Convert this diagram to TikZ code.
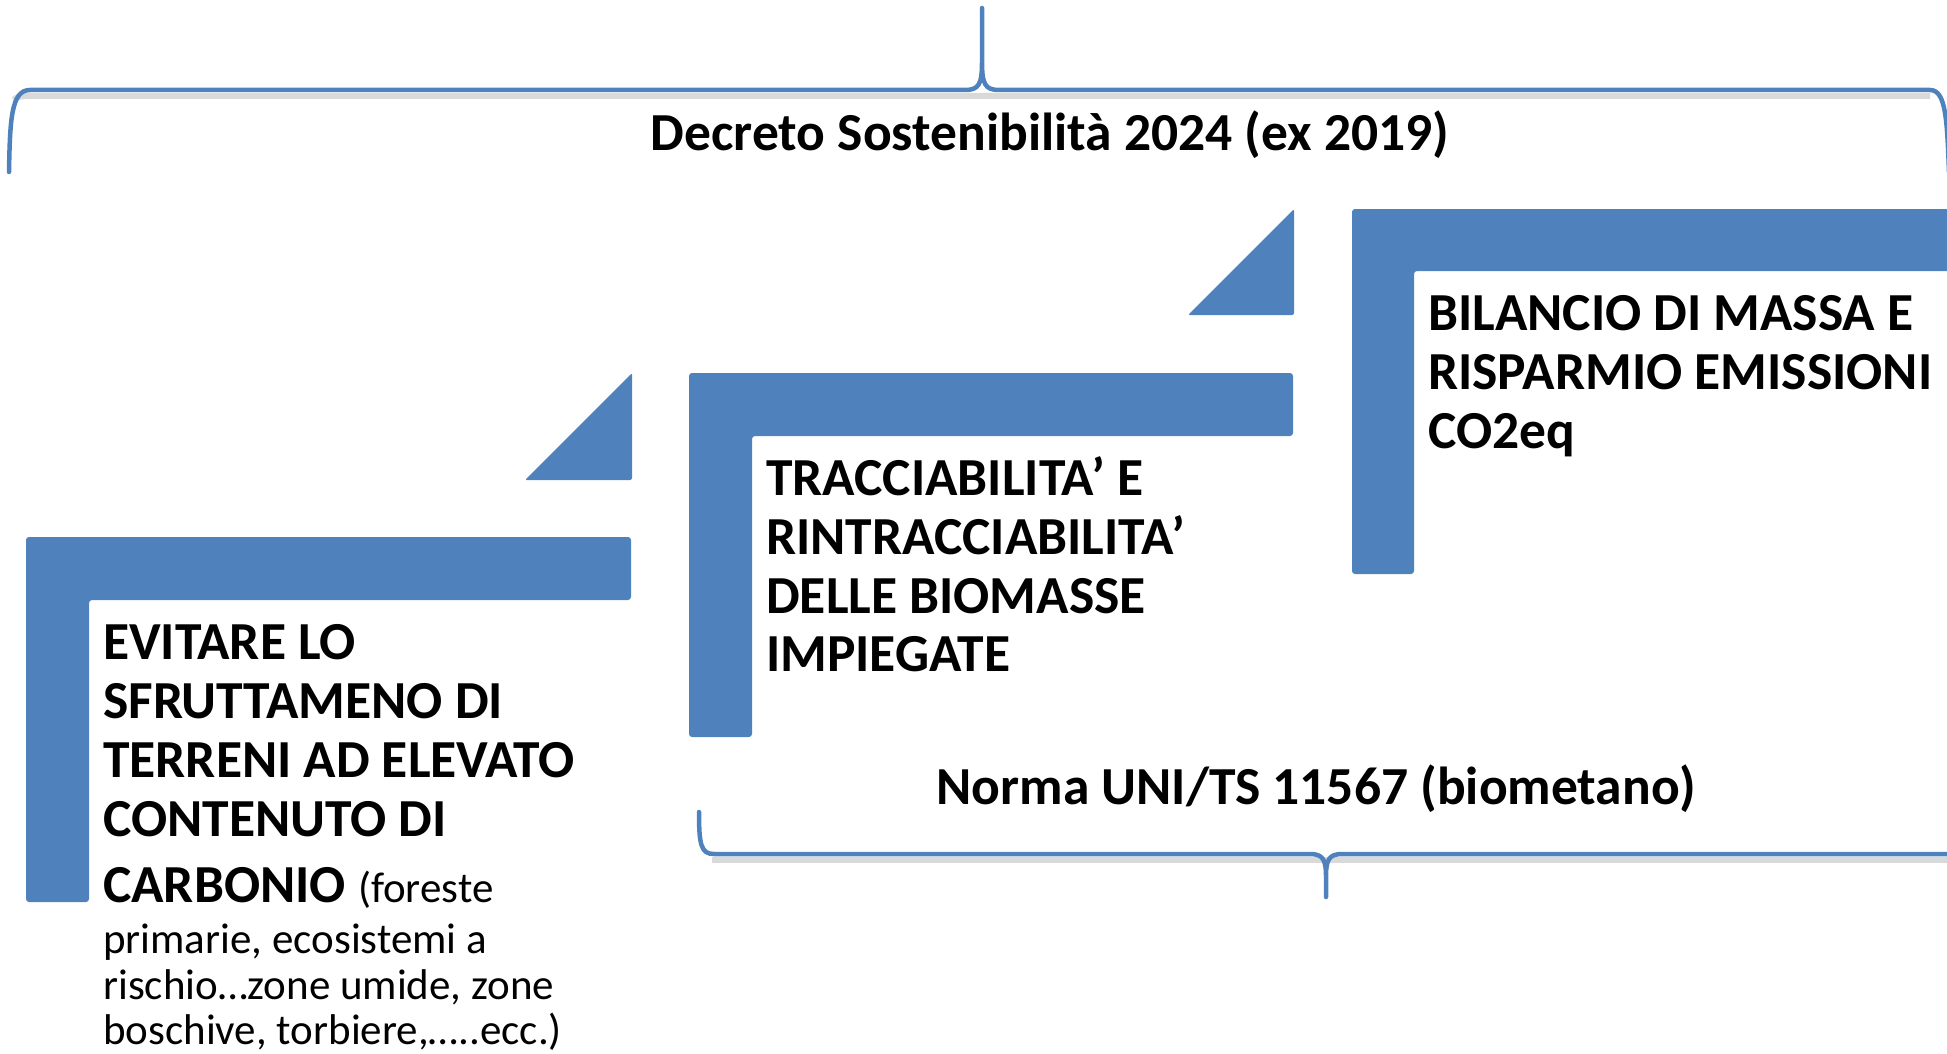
\documentclass[tikz,border=0pt]{standalone}
\usepackage{fontspec}
\setmainfont{Carlito}
\definecolor{ablue}{HTML}{4F81BD}
\begin{document}
\begin{tikzpicture}[x=1pt,y=-1pt,
  lshape/.style={fill=ablue, rounded corners=3pt},
  tri/.style={fill=ablue, rounded corners=2pt},
  brace/.style={draw=ablue, line width=4.5pt, line cap=round, line join=round},
  braceshadow/.style={draw=black, opacity=0.15, line width=6pt},
  bigtxt/.style={font=\fontsize{53.5}{59}\selectfont\bfseries, anchor=base west, inner sep=0pt},
  smalltxt/.style={font=\fontsize{43}{46}\selectfont, anchor=base west, inner sep=0pt},
  headtxt/.style={font=\fontsize{53.5}{60}\selectfont\bfseries, anchor=base, inner sep=0pt}]
\useasboundingbox (0,0) rectangle (1947,1054);
\clip (0,0) rectangle (1947,1054);
% top brace
\coordinate (tbL) at (9,172);
\coordinate (tbTip) at (982,8);
\coordinate (tbR) at (1949,172);
\draw[braceshadow] (14,100) .. controls (15,97) and (21,96) .. (30,96) -- (1930,96);
\draw[brace] (tbL) .. controls (10,120) and (11,90) .. (30,90) -- (965,90)
  .. controls (979,90) and (982,84) .. (982,62) -- (tbTip)
  (982,62) .. controls (982,84) and (985,90) .. (999,90) -- (1930,90)
  .. controls (1946,90) and (1947,120) .. (tbR);
\node[headtxt] (title) at (1050,150) {Decreto Sostenibilità 2024 (ex 2019)};
% bottom brace
\coordinate (bbL) at (699,812);
\coordinate (bbTip) at (1326,897);
\draw[braceshadow] (712,860) -- (1947,860);
\draw[brace] (bbL) .. controls (699,845) and (701,854) .. (714,854) -- (1310,854)
  .. controls (1323,854) and (1326,860) .. (1326,876) -- (bbTip)
  (1326,876) .. controls (1326,860) and (1329,854) .. (1342,854) -- (1960,854);
\node[headtxt] (norma) at (1316,804) {Norma UNI/TS 11567 (biometano)};
% L shapes
\fill[lshape] (26,537) -- (631,537) -- (631,600) -- (89,600) -- (89,902) -- (26,902) -- cycle;
\fill[tri] (525,480) -- (632,480) -- (632,373) -- cycle;
\fill[lshape] (689,373) -- (1293,373) -- (1293,436) -- (752,436) -- (752,737) -- (689,737) -- cycle;
\fill[tri] (1188,315) -- (1294,315) -- (1294,209) -- cycle;
\fill[lshape] (1352,209) -- (1960,209) -- (1960,271) -- (1414,271) -- (1414,574) -- (1352,574) -- cycle;
% left text
\node[bigtxt] (a1) at (103,659) {EVITARE LO};
\node[bigtxt] (a2) at (103,718) {SFRUTTAMENO DI};
\node[bigtxt] (a3) at (103,777) {TERRENI AD ELEVATO};
\node[bigtxt] (a4) at (103,836) {CONTENUTO DI};
\node[bigtxt] (a5) at (103,902) {CARBONIO {\fontsize{43}{46}\selectfont\mdseries (foreste}};
\node[smalltxt] (a6) at (103,953) {primarie, ecosistemi a};
\node[smalltxt] (a7) at (103,999) {rischio…zone umide, zone};
\node[smalltxt] (a8) at (103,1044) {boschive, torbiere,…..ecc.)};
% middle text
\node[bigtxt] (b1) at (766,495) {TRACCIABILITA’ E};
\node[bigtxt] (b2) at (766,554) {RINTRACCIABILITA’};
\node[bigtxt] (b3) at (766,613) {DELLE BIOMASSE};
\node[bigtxt] (b4) at (766,671) {IMPIEGATE};
% right text
\node[bigtxt] (c1) at (1428,330) {BILANCIO DI MASSA E};
\node[bigtxt] (c2) at (1428,389) {RISPARMIO EMISSIONI};
\node[bigtxt] (c3) at (1428,448) {CO2eq};
\end{tikzpicture}
\end{document}
